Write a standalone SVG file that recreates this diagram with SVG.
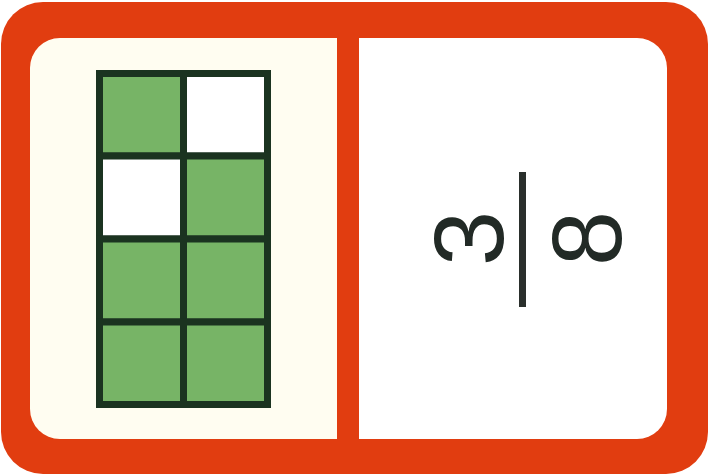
<svg xmlns="http://www.w3.org/2000/svg" width="710" height="476" viewBox="0 0 710 476">
<style>
.cell{stroke:#1b3320;stroke-width:7}
.g{fill:#77b466}
.w{fill:#ffffff}
.num{font-family:"Liberation Sans",Arial,sans-serif;font-size:99px;fill:#222a26;text-anchor:middle}
</style>
<g id="card">
<rect x="1" y="2" width="707" height="472" rx="42" fill="#e13d10"/>
</g>
<g id="left-panel">
<path d="M60 38 H337 V439 H60 A30 30 0 0 1 30 409 V68 A30 30 0 0 1 60 38 Z" fill="#fffdf1"/>
</g>
<g id="right-panel">
<path d="M359 38 H637 A30 30 0 0 1 667 68 V409 A30 30 0 0 1 637 439 H359 Z" fill="#ffffff"/>
</g>
<g id="grid">
<rect class="cell g" x="99.5" y="73.5" width="84" height="82.5"/>
<rect class="cell w" x="183.5" y="73.5" width="84" height="82.5"/>
<rect class="cell w" x="99.5" y="156" width="84" height="83"/>
<rect class="cell g" x="183.5" y="156" width="84" height="83"/>
<rect class="cell g" x="99.5" y="239" width="84" height="83"/>
<rect class="cell g" x="183.5" y="239" width="84" height="83"/>
<rect class="cell g" x="99.5" y="322" width="84" height="82.5"/>
<rect class="cell g" x="183.5" y="322" width="84" height="82.5"/>
</g>
<g id="fraction">
<text class="num" transform="translate(467.5,238.5) rotate(-90)" x="0" y="35.5">3</text>
<rect x="519" y="172" width="7" height="135" fill="#2a2f2c"/>
<text class="num" transform="translate(585.5,238.5) rotate(-90)" x="0" y="35.5">8</text>
</g>
</svg>
